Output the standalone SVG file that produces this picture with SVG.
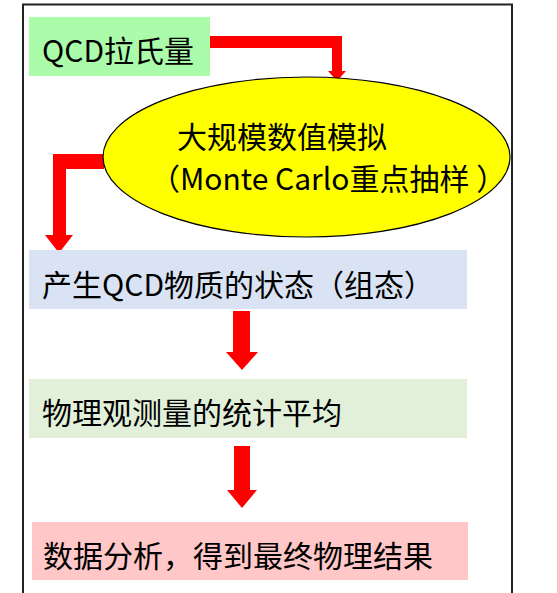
<svg xmlns="http://www.w3.org/2000/svg" width="557" height="593" viewBox="0 0 557 593">
<style>
.t{font-family:"Noto Sans CJK SC","Noto Sans",sans-serif;font-size:30px;fill:#000}
.arr{fill:#FF0000;stroke:none}
</style>
<rect x="0" y="0" width="557" height="593" fill="#fff"/>
<rect id="frame" x="23" y="4.5" width="489" height="600" fill="none" stroke="#222" stroke-width="2"/>
<g id="connectors">
<polygon class="arr" points="210,36 342,36 342,71 346,71 337,81 328,71 332,71 332,48 210,48"/>
<polygon class="arr" points="104,154 104,169 66,169 66,235 73,235 59,253 45,235 53,235 53,154"/>
<polygon class="arr" points="233,311 250,311 250,352 258,352 242,370 226,352 233,352"/>
<polygon class="arr" points="234,446 250,446 250,490 257,490 242,508 227,490 234,490"/>
</g>
<g id="n1">
<rect x="29" y="17" width="181" height="59" fill="#AAFBAA"/>
<text class="t" x="42" y="62" font-size="32">QCD拉氏量</text>
</g>
<g id="n2">
<ellipse cx="306.5" cy="157" rx="203.5" ry="80" fill="#FFFF00" stroke="#000" stroke-width="1.2"/>
<text class="t" x="177" y="148" font-size="29">大规模数值模拟</text>
<text class="t" x="150" y="190" font-size="29.5">（Monte Carlo重点抽样 ）</text>
</g>
<g id="n3">
<rect x="29" y="250" width="438" height="59" fill="#DAE3F3"/>
<text class="t" x="42" y="296">产生QCD物质的状态（组态）</text>
</g>
<g id="n4">
<rect x="29" y="379" width="438" height="59" fill="#E2F0D9"/>
<text class="t" x="42" y="424">物理观测量的统计平均</text>
</g>
<g id="n5">
<rect x="32" y="522" width="436" height="58" fill="#FFC7C7"/>
<text class="t" x="43" y="567">数据分析，得到最终物理结果</text>
</g>
</svg>
